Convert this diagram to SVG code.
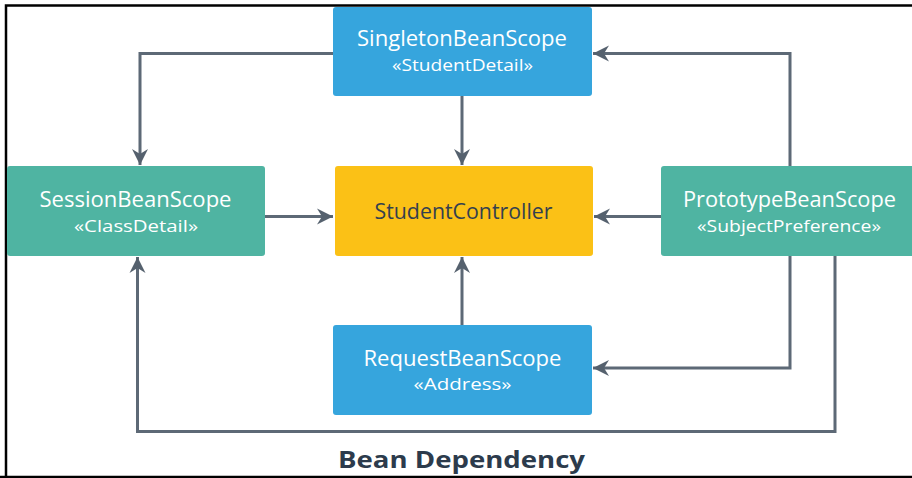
<svg xmlns="http://www.w3.org/2000/svg" width="912" height="478" viewBox="0 0 912 478">
<defs>
<marker id="arr" markerUnits="userSpaceOnUse" markerWidth="20" markerHeight="20" viewBox="0 0 20 20" refX="18" refY="10" orient="auto">
<path d="M2,2 L18,10 L2,18 L7,10 z" fill="#55616e"/>
</marker>
<style>
.blue{fill:#36a5dd}
.teal{fill:#4fb4a2}
.yellow{fill:#fbc116}
.t{font-family:"Open Sans","Liberation Sans",sans-serif;font-size:21px;fill:#ffffff;text-anchor:middle}
.s{font-family:"Open Sans","Liberation Sans",sans-serif;font-size:16.5px;fill:#ffffff;text-anchor:middle}
.c{font-family:"Open Sans","Liberation Sans",sans-serif;font-size:21px;fill:#34404f;text-anchor:middle}
.title{font-family:"Open Sans","Liberation Sans",sans-serif;font-size:24px;font-weight:bold;fill:#2c3b4c;text-anchor:middle}
.ln{fill:none;stroke:#5d6976;stroke-width:3;marker-end:url(#arr)}
</style>
</defs>
<rect x="0" y="0" width="912" height="478" fill="#ffffff"/>
<path d="M6,478 V5.5 H912" fill="none" stroke="#000" stroke-width="2.5"/>
<line x1="0" y1="477" x2="912" y2="477" stroke="#000" stroke-width="2.5"/>
<g id="connectors">
<path class="ln" d="M333,53.5 H140 V165"/>
<path class="ln" d="M462,96 V165"/>
<path class="ln" d="M265,216.5 H333"/>
<path class="ln" d="M661,216.5 H594"/>
<path class="ln" d="M790,166 V53.5 H593"/>
<path class="ln" d="M462,325 V257"/>
<path class="ln" d="M790,256 V368 H593"/>
<path class="ln" d="M835,256 V431.5 H137.5 V257"/>
</g>
<g id="singleton">
<rect class="blue" x="333" y="7" width="259" height="89" rx="3"/>
<text class="t" x="462" y="46" textLength="210" lengthAdjust="spacingAndGlyphs">SingletonBeanScope</text>
<text class="s" x="462.5" y="71" textLength="141" lengthAdjust="spacingAndGlyphs">«StudentDetail»</text>
</g>
<g id="session">
<rect class="teal" x="7" y="166" width="258" height="90" rx="3"/>
<text class="t" x="135.5" y="206.5" textLength="192" lengthAdjust="spacingAndGlyphs">SessionBeanScope</text>
<text class="s" x="136" y="231.5" textLength="124" lengthAdjust="spacingAndGlyphs">«ClassDetail»</text>
</g>
<g id="controller">
<rect class="yellow" x="335" y="166" width="258" height="90" rx="3"/>
<text class="c" x="463.5" y="219" textLength="178" lengthAdjust="spacingAndGlyphs">StudentController</text>
</g>
<g id="prototype">
<rect class="teal" x="661" y="166" width="258" height="90" rx="3"/>
<text class="t" x="789.5" y="206.5" textLength="213" lengthAdjust="spacingAndGlyphs">PrototypeBeanScope</text>
<text class="s" x="789" y="231.5" textLength="184" lengthAdjust="spacingAndGlyphs">«SubjectPreference»</text>
</g>
<g id="request">
<rect class="blue" x="333" y="325" width="259" height="90" rx="3"/>
<text class="t" x="462.5" y="365.5" textLength="198" lengthAdjust="spacingAndGlyphs">RequestBeanScope</text>
<text class="s" x="462.5" y="390" textLength="98" lengthAdjust="spacingAndGlyphs">«Address»</text>
</g>
<text class="title" x="461.5" y="468" textLength="247" lengthAdjust="spacingAndGlyphs">Bean Dependency</text>
</svg>
